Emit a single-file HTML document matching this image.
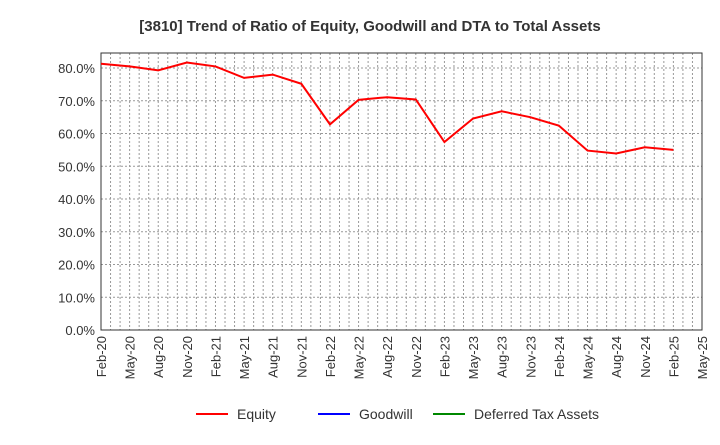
<!DOCTYPE html>
<html><head><meta charset="utf-8"><style>
body{margin:0;background:#fff;font-family:"Liberation Sans",sans-serif;}
</style></head><body>
<svg id="chart" width="720" height="440" xmlns="http://www.w3.org/2000/svg" font-family="Liberation Sans, sans-serif">
<text x="370" y="31" text-anchor="middle" font-size="15" font-weight="bold" fill="#333">[3810]  Trend of Ratio of Equity, Goodwill and DTA to Total Assets</text>
<g id="grid"></g><g id="axes"></g><g id="series"></g>
<g>
<line x1="196" y1="414" x2="228" y2="414" stroke="#f00" stroke-width="2"/><text x="237" y="419" font-size="14" fill="#333">Equity</text>
<line x1="318" y1="414" x2="350" y2="414" stroke="#00f" stroke-width="2"/><text x="359" y="419" font-size="14" fill="#333">Goodwill</text>
<line x1="433" y1="414" x2="465" y2="414" stroke="#080" stroke-width="2"/><text x="474" y="419" font-size="14" fill="#333">Deferred Tax Assets</text>
</g>
</svg>
<script>
const categories=["Feb-20","May-20","Aug-20","Nov-20","Feb-21","May-21","Aug-21","Nov-21","Feb-22","May-22","Aug-22","Nov-22","Feb-23","May-23","Aug-23","Nov-23","Feb-24","May-24","Aug-24","Nov-24","Feb-25","May-25"];
const equity=[81.3,80.5,79.3,81.7,80.5,77.0,78.0,75.2,62.8,70.3,71.1,70.4,57.4,64.6,66.8,65.0,62.4,54.8,53.9,55.8,55.0];
const yTicks=[0,10,20,30,40,50,60,70,80];
const L=101,R=702,T=53,B=330,yMax=84.6;
const ns="http://www.w3.org/2000/svg";
const x=i=>L+(R-L)*i/(categories.length-1);
const y=v=>B-(B-T)*v/yMax;
function mk(p,t,a){const e=document.createElementNS(ns,t);for(const k in a)e.setAttribute(k,a[k]);document.getElementById(p).appendChild(e);return e;}
const nMonths=(categories.length-1)*3;
for(let m=1;m<nMonths;m++){const xx=L+(R-L)*m/nMonths;
const g=mk('grid','line',{x1:xx,x2:xx,y1:T,y2:B,stroke:'#999','stroke-dasharray':'2,2'});

}
yTicks.forEach(v=>{if(v>0){const g=mk('grid','line',{x1:L,x2:R,y1:y(v),y2:y(v),stroke:'#999','stroke-dasharray':'2,2'});

}
const t=mk('axes','text',{x:L-6,y:y(v)+5,'text-anchor':'end','font-size':'13',fill:'#333'});t.textContent=v.toFixed(1)+'%';

});
categories.forEach((c,i)=>{const t=mk('axes','text',{transform:`translate(${x(i)+5},${B+6}) rotate(-90)`,'text-anchor':'end','font-size':'13',fill:'#333'});t.textContent=c;

});
const fr=mk('axes','rect',{x:L,y:T,width:R-L,height:B-T,fill:'none',stroke:'#333'});


const p=mk('series','polyline',{points:equity.map((v,i)=>x(i)+','+y(v)).join(' '),fill:'none',stroke:'#f00','stroke-width':2});


</script>
</body></html>
